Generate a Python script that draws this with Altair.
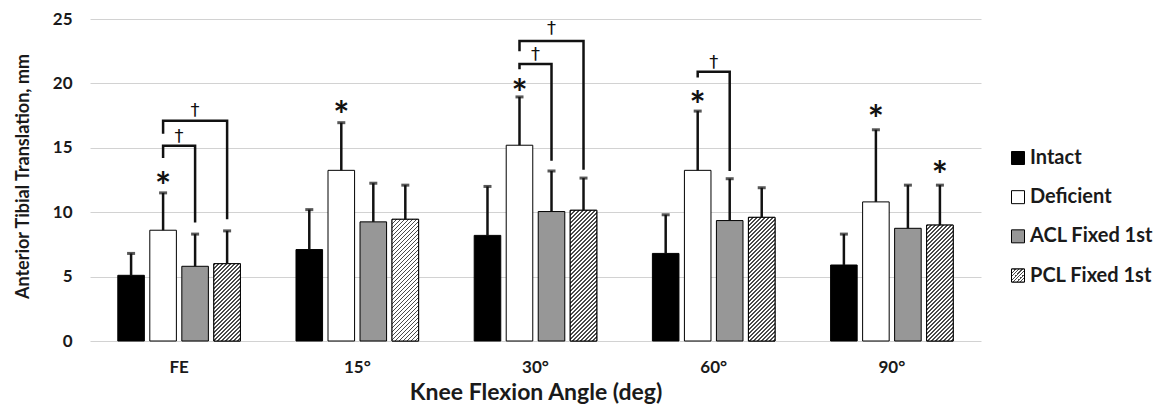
import altair as alt
import pandas as pd

# ---------------- data ----------------
angles = ["FE", "15°", "30°", "60°", "90°"]
series = ["Intact", "Deficient", "ACL Fixed 1st", "PCL Fixed 1st"]

intact_mean = [5.1, 7.1, 8.2, 6.8, 5.9]
intact_top = [6.8, 10.2, 12.0, 9.8, 8.3]
deficient_mean = [8.6, 13.25, 15.2, 13.25, 10.8]
deficient_top = [11.5, 16.95, 18.95, 17.85, 16.4]
acl_mean = [5.8, 9.25, 10.05, 9.35, 8.75]
acl_top = [8.3, 12.25, 13.2, 12.6, 12.1]
pcl_mean = [6.0, 9.45, 10.15, 9.6, 9.0]
pcl_top = [8.55, 12.1, 12.65, 11.9, 12.1]

# significance asterisks: (angle, series, y)
ast_angle = ["FE", "15°", "30°", "60°", "90°", "90°"]
ast_series = ["Deficient", "Deficient", "Deficient", "Deficient", "Deficient", "PCL Fixed 1st"]
ast_y = [12.55, 18.1, 19.8, 18.9, 17.8, 13.4]

# brackets (dagger comparisons)
br_id = ["FE-a", "FE-b", "30-a", "30-b", "60-a"]
br_angle = ["FE", "FE", "30°", "30°", "60°"]
br_left = ["Deficient"] * 5
br_right = ["ACL Fixed 1st", "PCL Fixed 1st", "ACL Fixed 1st", "PCL Fixed 1st", "ACL Fixed 1st"]
br_left_bottom = [14.2, 16.1, 21.1, 22.5, 20.45]
br_top = [15.15, 17.1, 21.5, 23.3, 20.9]
br_right_bottom = [9.2, 9.45, 14.0, 13.3, 13.2]
br_dagger_y = [15.95, 17.95, 22.3, 24.3, 21.7]

# ---------------- tables ----------------
means = [intact_mean, deficient_mean, acl_mean, pcl_mean]
tops = [intact_top, deficient_top, acl_top, pcl_top]
bar_rows = []
for si, s in enumerate(series):
    for ai, a in enumerate(angles):
        bar_rows.append({"angle": a, "series": s, "mean": means[si][ai], "top": tops[si][ai]})
bars_df = pd.DataFrame(bar_rows)

ast_df = pd.DataFrame({"angle": ast_angle, "series": ast_series, "y": ast_y})

line_rows = []
for i in range(len(br_id)):
    pts = [(br_left[i], br_left_bottom[i]), (br_left[i], br_top[i]),
           (br_right[i], br_top[i]), (br_right[i], br_right_bottom[i])]
    for k, (s, y) in enumerate(pts):
        line_rows.append({"bid": br_id[i], "ord": k, "angle": br_angle[i], "series": s, "y": y})
line_df = pd.DataFrame(line_rows)

dag_rows = []
for i in range(len(br_id)):
    li, ri = series.index(br_left[i]), series.index(br_right[i])
    mid = (li + ri) / 2
    half = 0 if mid == int(mid) else 1
    dag_rows.append({"angle": br_angle[i], "series": series[int(mid)], "y": br_dagger_y[i], "half": half})
dag_df = pd.DataFrame(dag_rows)

legend_df = pd.DataFrame({"series": series})

# ---------------- layout / style ----------------
PLOT_W, PLOT_H = 891, 322
YMAX = 25
PAD_INNER, PAD_OUTER = 0.312, 0.156
OFF_INNER = 0.17
STEP = PLOT_W / len(angles)
BAND = STEP * (1 - PAD_INNER)
STRIDE = BAND / (len(series) - OFF_INNER)
BAR_W = STRIDE * (1 - OFF_INNER)
FONT = "Lato"
TXT = "#1a1a1a"
fill_colors = ["#000000", "#ffffff", "#979797", "#ffffff"]


def hatch(w, h, period=4.0, frac=0.38, color="#4a4a4a"):
    r = h / w
    a = (1 + r) / (1 + r * r)
    n = (w + h) / period
    stops = []
    k = 0
    while k < n:
        s0 = k / n
        s1 = min((k + frac) / n, 1.0)
        stops += [
            alt.GradientStop(offset=s0, color="#ffffff"),
            alt.GradientStop(offset=s0, color=color),
            alt.GradientStop(offset=s1, color=color),
            alt.GradientStop(offset=s1, color="#ffffff"),
        ]
        k += 1
    return alt.LinearGradient(gradient="linear", stops=stops, x1=0, y1=0, x2=a, y2=a * r)


xaxis = alt.Axis(
    title="Knee Flexion Angle (deg)", labelAngle=0, ticks=False, domain=False,
    labelPadding=18, titlePadding=6, labelFontSize=17, labelFontWeight="bold",
    titleFontSize=23, titleFontWeight="bold", labelFont=FONT, titleFont=FONT,
    labelColor=TXT, titleColor=TXT,
)
X = alt.X("angle:N", sort=angles,
          scale=alt.Scale(domain=angles, paddingInner=PAD_INNER, paddingOuter=PAD_OUTER),
          axis=xaxis)
XO = alt.XOffset("series:N", sort=series,
                 scale=alt.Scale(domain=series, paddingInner=OFF_INNER, paddingOuter=0))
yscale = alt.Scale(domain=[0, YMAX], nice=False)
yaxis = alt.Axis(
    values=[0, 5, 10, 15, 20, 25], title="Anterior Tibial Translation, mm",
    ticks=False, domain=False, gridColor="#d2d2d2", gridWidth=1,
    labelPadding=18, titlePadding=20, labelFontSize=17, labelFontWeight="bold",
    titleFontSize=18, titleFontWeight="bold", labelFont=FONT, titleFont=FONT,
    labelColor=TXT, titleColor=TXT, titleLimit=600,
    titleY=PLOT_H / 2 - 4, titleAlign="center", titleAnchor="middle",
)
fill_scale = alt.Scale(domain=series, range=fill_colors)

bars = alt.Chart(bars_df).mark_bar(stroke="#000000", strokeWidth=1).encode(
    x=X, xOffset=XO,
    y=alt.Y("mean:Q", scale=yscale, axis=yaxis),
    fill=alt.Fill("series:N", scale=fill_scale, legend=None),
)

hatch_layers = []
for ai, a in enumerate(angles):
    h = pcl_mean[ai] * PLOT_H / YMAX
    hatch_layers.append(
        alt.Chart(bars_df)
        .transform_filter(f"datum.series === 'PCL Fixed 1st' && datum.angle === '{a}'")
        .mark_bar(fill=hatch(BAR_W, h), stroke="#000000", strokeWidth=1)
        .encode(x=X, xOffset=XO, y=alt.Y("mean:Q", scale=yscale, axis=None))
    )

err = alt.Chart(bars_df).mark_rule(color="#111111", strokeWidth=2.5).encode(
    x=X, xOffset=XO,
    y=alt.Y("mean:Q", scale=yscale, axis=None), y2="top:Q",
)
caps = alt.Chart(bars_df).mark_tick(color="#111111", thickness=3, size=8).encode(
    x=X, xOffset=XO, y=alt.Y("top:Q", scale=yscale, axis=None),
)

brackets = alt.Chart(line_df).mark_line(
    color="#111111", strokeWidth=2.5, strokeCap="butt", strokeJoin="miter"
).encode(
    x=X, xOffset=XO, y=alt.Y("y:Q", scale=yscale, axis=None),
    detail="bid:N", order="ord:Q",
)

asterisks = alt.Chart(ast_df).mark_text(
    text="*", fontSize=38, font=FONT, fontWeight="bold", color="#111111",
    baseline="alphabetic", dy=21,
).encode(x=X, xOffset=XO, y=alt.Y("y:Q", scale=yscale, axis=None))

dag_full = alt.Chart(dag_df).transform_filter("datum.half == 0").mark_text(
    text="†", fontSize=18, font="DejaVu Sans", color="#111111", baseline="alphabetic", dy=6,
).encode(x=X, xOffset=XO, y=alt.Y("y:Q", scale=yscale, axis=None))
dag_half = alt.Chart(dag_df).transform_filter("datum.half == 1").mark_text(
    text="†", fontSize=18, font="DejaVu Sans", color="#111111", baseline="alphabetic", dy=6,
    dx=STRIDE / 2,
).encode(x=X, xOffset=XO, y=alt.Y("y:Q", scale=yscale, axis=None))

leg_y = alt.Y("series:N", sort=series,
              scale=alt.Scale(domain=series, range=[139, 256.5], padding=0), axis=None)
LEG_X = PLOT_W + 37
leg_sq = alt.Chart(legend_df).mark_point(
    shape="square", filled=True, size=169, stroke="#000000", strokeWidth=1, opacity=1
).encode(
    x=alt.value(LEG_X), y=leg_y,
    fill=alt.Fill("series:N", scale=fill_scale, legend=None),
)
leg_hatch = alt.Chart(legend_df).transform_filter("datum.series === 'PCL Fixed 1st'").mark_point(
    shape="square", filled=True, size=169, stroke="#000000", strokeWidth=1, opacity=1,
    fill=hatch(13, 13, period=3.5),
).encode(x=alt.value(LEG_X), y=leg_y)
leg_txt = alt.Chart(legend_df).mark_text(
    align="left", baseline="middle", fontSize=20, fontWeight="bold", font=FONT, color=TXT,
).encode(x=alt.value(LEG_X + 12), y=leg_y, text="series:N")

chart = alt.layer(
    bars, *hatch_layers, err, caps, brackets, asterisks, dag_full, dag_half,
    leg_sq, leg_hatch, leg_txt,
).resolve_scale(y="independent").properties(
    width=PLOT_W, height=PLOT_H,
    padding={"left": 6, "right": 0, "top": 2, "bottom": 0},
).configure_view(stroke=None)

chart.save("out.html", embed_options={"renderer": "svg", "actions": False})
